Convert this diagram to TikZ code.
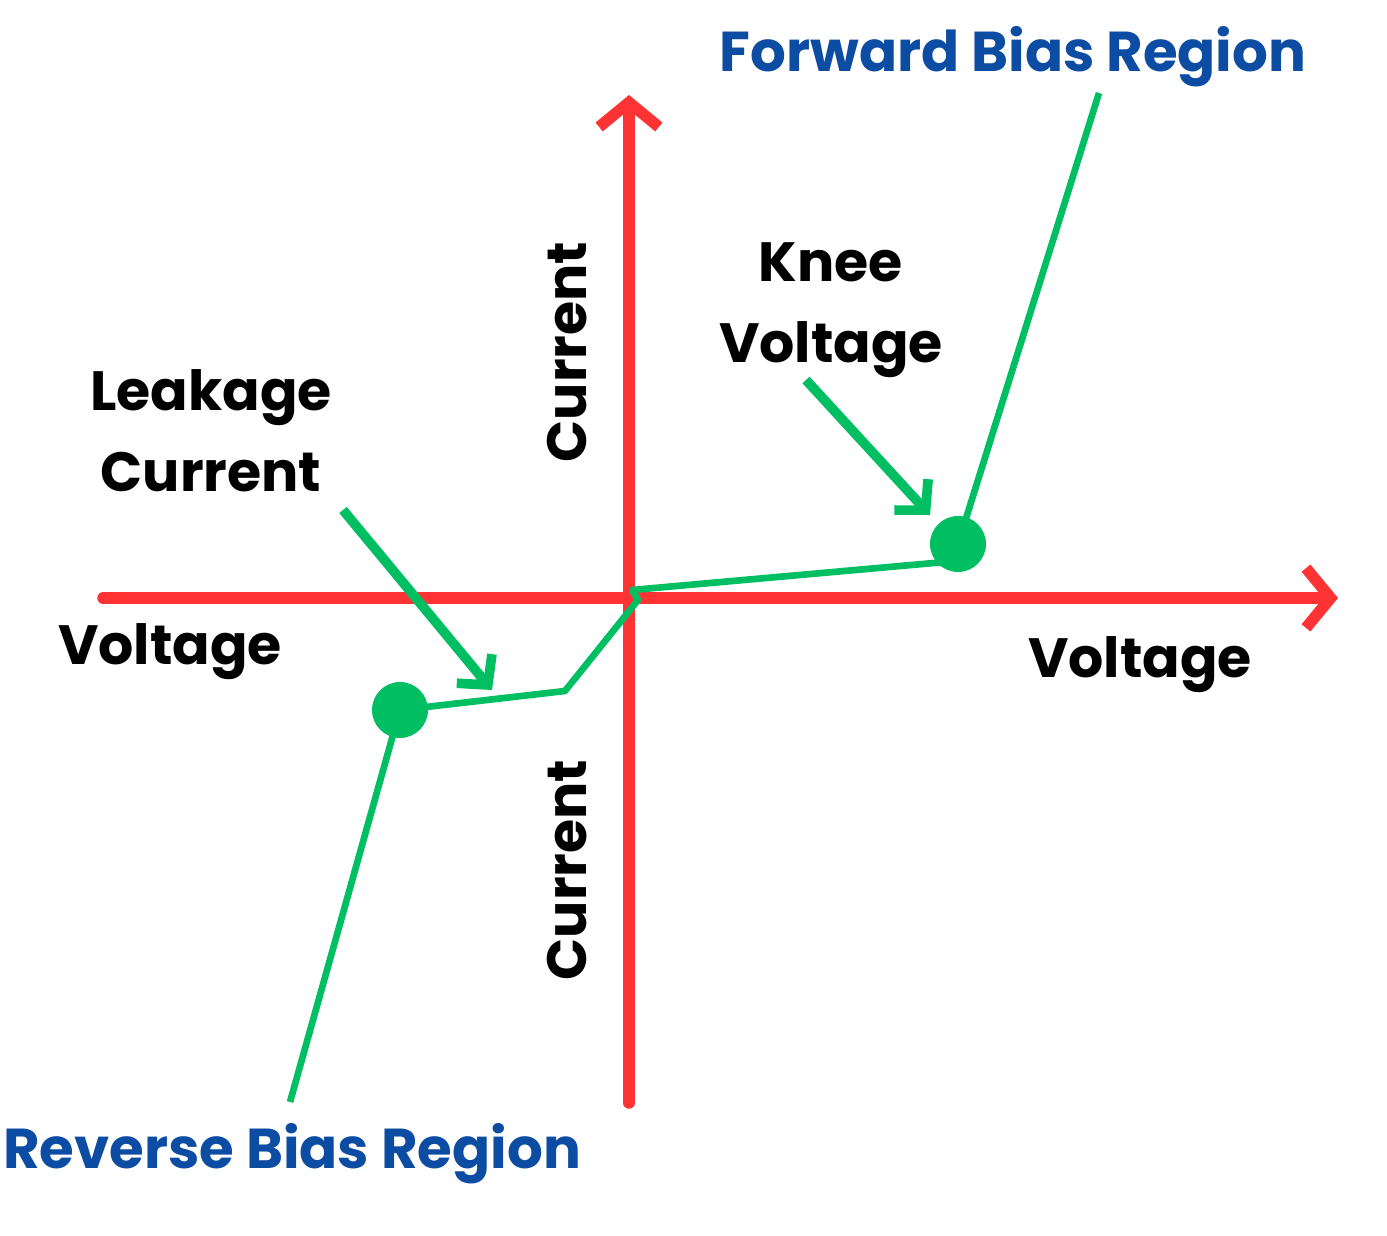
\documentclass[tikz,border=0pt]{standalone}
\usepackage{fontspec}
\setmainfont{Poppins}
\usetikzlibrary{arrows.meta}

\tikzset{
  axis/.style={draw={rgb,255:red,255;green,51;blue,51}, line width=6.5pt,
    -{Straight Barb[length=14pt,width=34pt,line width=6.5pt]}, line cap=round},
  curve/.style={draw={rgb,255:red,0;green,191;blue,99}, line width=3.8pt, line join=round},
  pointer/.style={draw={rgb,255:red,0;green,191;blue,99}, line width=5.5pt,
    -{Straight Barb[length=12pt,width=26pt,line width=5.5pt]}},
  dot/.style={circle, fill={rgb,255:red,0;green,191;blue,99}, minimum size=1.12cm, inner sep=0pt},
  label/.style={font=\bfseries\fontsize{31.5}{46}\selectfont, align=center},
  region/.style={font=\bfseries\fontsize{32}{36}\selectfont, text={rgb,255:red,12;green,76;blue,162}}
}

\begin{document}
\begin{tikzpicture}[x=0.02cm,y=-0.02cm]
\useasboundingbox (0,0) rectangle (1387,1236);

% axes
\coordinate (xstart) at (103,598);
\coordinate (xend) at (1338,598);
\coordinate (ystart) at (629,1103);
\coordinate (yend) at (629,95);
\draw[axis] (xstart) -- (xend);
\draw[axis] (ystart) -- (yend);

% characteristic
\node[dot] (breakdown) at (400,710) {};
\node[dot] (knee) at (958,544) {};
\coordinate (revend) at (290,1102);
\coordinate (leak) at (565,691);
\coordinate (origin) at (638,600);
\coordinate (origin2) at (632,590);
\coordinate (kneebase) at (945,562);
\coordinate (fwdend) at (1099,93);
\draw[curve] (revend) -- (breakdown.center) -- (leak) -- (origin) -- (origin2) -- (kneebase);
\draw[curve] (knee.center) -- (fwdend);

% labels
\node[label] (kneetxt) at (831,310) {Knee\\Voltage};
\node[label] (leaktxt) at (211,431) {Leakage\\Current};
\node[label] (vleft) at (170,652) {Voltage};
\node[label] (vright) at (1140,665) {Voltage};
\node[label, rotate=90] (cup) at (567,352) {Current};
\node[label, rotate=90] (cdown) at (567,870) {Current};
\node[region] (fwd) at (1013,57) {Forward Bias Region};
\node[region] (rev) at (292,1154) {Reverse Bias Region};

% pointers
\coordinate (kneefrom) at (806,380);
\coordinate (kneeto) at (930,515);
\coordinate (leakfrom) at (343,510);
\coordinate (leakto) at (492,690);
\draw[pointer] (kneefrom) -- (kneeto);
\draw[pointer] (leakfrom) -- (leakto);
\end{tikzpicture}
\end{document}
